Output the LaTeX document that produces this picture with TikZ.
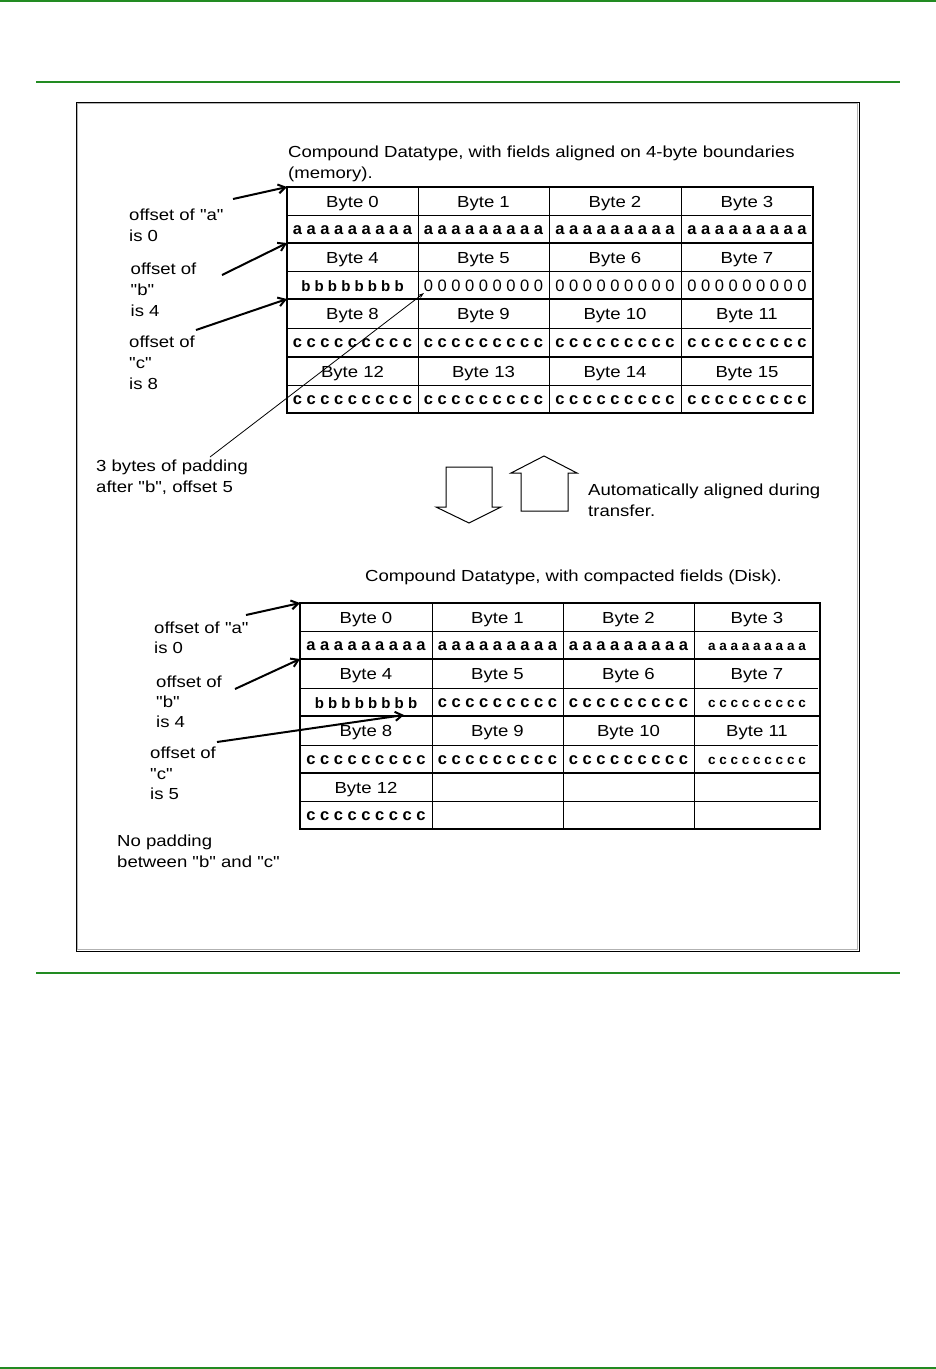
\documentclass[tikz,border=0pt]{standalone}
\usepackage{fontspec}
\setmainfont{Liberation Sans}[FakeStretch=1.16, Ligatures=TeXOff]
\newfontfamily\cellfont{Liberation Sans}
\usetikzlibrary{arrows.meta}
\definecolor{pagegreen}{RGB}{34,139,34}
\tikzset{
  lbl/.style={anchor=base west, inner sep=0pt, font=\fontsize{16}{20}\selectfont},
  bytelbl/.style={anchor=base, inner sep=0pt, font=\fontsize{16}{20}\selectfont},
  bitsbold/.style={anchor=base, inner sep=0pt, font=\cellfont\bfseries\fontsize{16.5}{20}\selectfont},
  bitsb/.style={anchor=base, inner sep=0pt, font=\cellfont\bfseries\fontsize{15}{20}\selectfont},
  bitszero/.style={anchor=base, inner sep=0pt, font=\cellfont\fontsize{16.5}{20}\selectfont},
  bitstight/.style={anchor=base, inner sep=0pt, font=\cellfont\bfseries\fontsize{13.5}{20}\selectfont},
  thickrule/.style={line width=2.2pt, line cap=rect},
  thinrule/.style={line width=1pt},
  offarrow/.style={line width=2pt, -{Straight Barb[length=7pt,width=9pt]}},
  padarrow/.style={line width=0.8pt, -{Stealth[length=6pt,width=4pt]}},
  greenrule/.style={draw=pagegreen},
  blockarrow/.style={draw=black, line width=1pt, line join=miter},
}
\def\A{a a a a a a a a a}
\def\B{b b b b b b b b}
\def\C{c c c c c c c c c}
\def\Z{0 0 0 0 0 0 0 0 0}
\begin{document}
\begin{tikzpicture}[x=1pt,y=-1pt]
\useasboundingbox (0,0) rectangle (936,1369);
\fill[white] (0,0) rectangle (936,1369);

% page rules
\draw[greenrule, line width=1.5pt] (0,0.8) -- (936,0.8);
\draw[greenrule, line width=2.5pt] (36,82) -- (900,82);
\draw[greenrule, line width=2.5pt] (36,973) -- (900,973);
\draw[greenrule, line width=1.5pt] (0,1368.2) -- (936,1368.2);

% frame
\draw[gray!60, line width=1pt] (77.5,103.5) rectangle (857.5,949.5);
\draw[black, line width=1pt] (76,102) rectangle (859,951);

% ===== upper table =====
\foreach \y in {215,271,328,385} \draw[thinrule] (287,\y) -- (811,\y);
\foreach \x in {418,549,681} \draw[thinrule] (\x,187) -- (\x,413);
\foreach \y in {243,299,357} \draw[thickrule] (287,\y) -- (813,\y);
\draw[thickrule] (287,187) rectangle (813,413);
\coordinate (uA) at (287,187);
\coordinate (uB) at (287,243);
\coordinate (uC) at (287,299);

\foreach \r/\yb in {0/201,1/257,2/313.5,3/371}
  \foreach \c/\xc in {0/352.5,1/483.5,2/615,3/747}{
    \pgfmathtruncatemacro\n{4*\r+\c}
    \node[bytelbl] (ub\n) at (\xc,\yb+6) {Byte \n};
  }
% contents
\node[bitsbold] (ua0) at (352.5,234) {\A};
\node[bitsbold] (ua1) at (483.5,234) {\A};
\node[bitsbold] (ua2) at (615,234) {\A};
\node[bitsbold] (ua3) at (747,234) {\A};
\node[bitsb] (ubb) at (352.5,291) {\B};
\node[bitszero] (uz1) at (483.5,291) {\Z};
\node[bitszero] (uz2) at (615,291) {\Z};
\node[bitszero] (uz3) at (747,291) {\Z};
\node[bitsbold] (uc0) at (352.5,347.5) {\C};
\node[bitsbold] (uc1) at (483.5,347.5) {\C};
\node[bitsbold] (uc2) at (615,347.5) {\C};
\node[bitsbold] (uc3) at (747,347.5) {\C};
\node[bitsbold] (ud0) at (352.5,404) {\C};
\node[bitsbold] (ud1) at (483.5,404) {\C};
\node[bitsbold] (ud2) at (615,404) {\C};
\node[bitsbold] (ud3) at (747,404) {\C};

% upper texts
\node[lbl] (t1a) at (288,157) {Compound Datatype, with fields aligned on 4-byte boundaries};
\node[lbl] (t1b) at (288,178) {(memory).};
\node[lbl] (oa1) at (129,220) {offset of "a"};
\node[lbl] (oa2) at (129,241) {is 0};
\node[lbl] (ob1) at (130.5,274) {offset of};
\node[lbl] (ob2) at (130.5,295) {"b"};
\node[lbl] (ob3) at (130.5,316) {is 4};
\node[lbl] (oc1) at (129,347) {offset of};
\node[lbl] (oc2) at (129,368) {"c"};
\node[lbl] (oc3) at (129,389) {is 8};
\node[lbl] (pd1) at (96,471) {3 bytes of padding};
\node[lbl] (pd2) at (96,492) {after "b", offset 5};

\coordinate (uAt) at (233,199);
\coordinate (uBt) at (222,275);
\coordinate (uCt) at (196,330);
\coordinate (padt) at (210,457);
\coordinate (padh) at (424,293);
\draw[offarrow] (uAt) -- (uA);
\draw[offarrow] (uBt) -- (uB);
\draw[offarrow] (uCt) -- (uC);
\draw[padarrow] (padt) -- (padh);

% block arrows
\draw[blockarrow] (446,467) -- (492,467) -- (492,507) -- (501,507) -- (469,523) -- (436,507) -- (446,507) -- cycle;
\draw[blockarrow] (521,511) -- (521,473) -- (511,473) -- (544,456) -- (577,473) -- (568,473) -- (568,511) -- cycle;
\node[lbl] (au1) at (588,495) {Automatically aligned during};
\node[lbl] (au2) at (588,516) {transfer.};

% ===== lower table =====
\node[lbl] (t2) at (365,581) {Compound Datatype, with compacted fields (Disk).};
\foreach \y in {631,688,745,801} \draw[thinrule] (300,\y) -- (818,\y);
\foreach \x in {432,563,694} \draw[thinrule] (\x,603) -- (\x,829);
\foreach \y in {659,716,773} \draw[thickrule] (300,\y) -- (820,\y);
\draw[thickrule] (300,603) rectangle (820,829);
\coordinate (lA) at (300,603);
\coordinate (lB) at (300,659);
\coordinate (lC) at (404,715);

\foreach \r/\yb in {0/617,1/673.5,2/730.5}
  \foreach \c/\xc in {0/366,1/497.5,2/628.5,3/757}{
    \pgfmathtruncatemacro\n{4*\r+\c}
    \node[bytelbl] (lb\n) at (\xc,\yb+6) {Byte \n};
  }
\node[bytelbl] (lb12) at (366,793) {Byte 12};
\node[bitsbold] (la0) at (366,650) {\A};
\node[bitsbold] (la1) at (497.5,650) {\A};
\node[bitsbold] (la2) at (628.5,650) {\A};
\node[bitstight] (la3) at (757,650) {\A};
\node[bitsb] (lbb) at (366,708) {\B};
\node[bitsbold] (lc1) at (497.5,707) {\C};
\node[bitsbold] (lc2) at (628.5,707) {\C};
\node[bitstight] (lc3) at (757,707) {\C};
\node[bitsbold] (ld0) at (366,764) {\C};
\node[bitsbold] (ld1) at (497.5,764) {\C};
\node[bitsbold] (ld2) at (628.5,764) {\C};
\node[bitstight] (ld3) at (757,764) {\C};
\node[bitsbold] (le0) at (366,820) {\C};

\node[lbl] (la1t) at (154,633) {offset of "a"};
\node[lbl] (la2t) at (154,653.5) {is 0};
\node[lbl] (lb1t) at (156,687) {offset of};
\node[lbl] (lb2t) at (156,707) {"b"};
\node[lbl] (lb3t) at (156,727) {is 4};
\node[lbl] (lc1t) at (150,758) {offset of};
\node[lbl] (lc2t) at (150,779) {"c"};
\node[lbl] (lc3t) at (150,799.5) {is 5};
\node[lbl] (np1) at (117,846) {No padding};
\node[lbl] (np2) at (117,867) {between "b" and "c"};

\coordinate (lAt) at (246,615);
\coordinate (lBt) at (235,689);
\coordinate (lCt) at (217,742);
\draw[offarrow] (lAt) -- (lA);
\draw[offarrow] (lBt) -- (lB);
\draw[offarrow] (lCt) -- (lC);
\end{tikzpicture}
\end{document}
